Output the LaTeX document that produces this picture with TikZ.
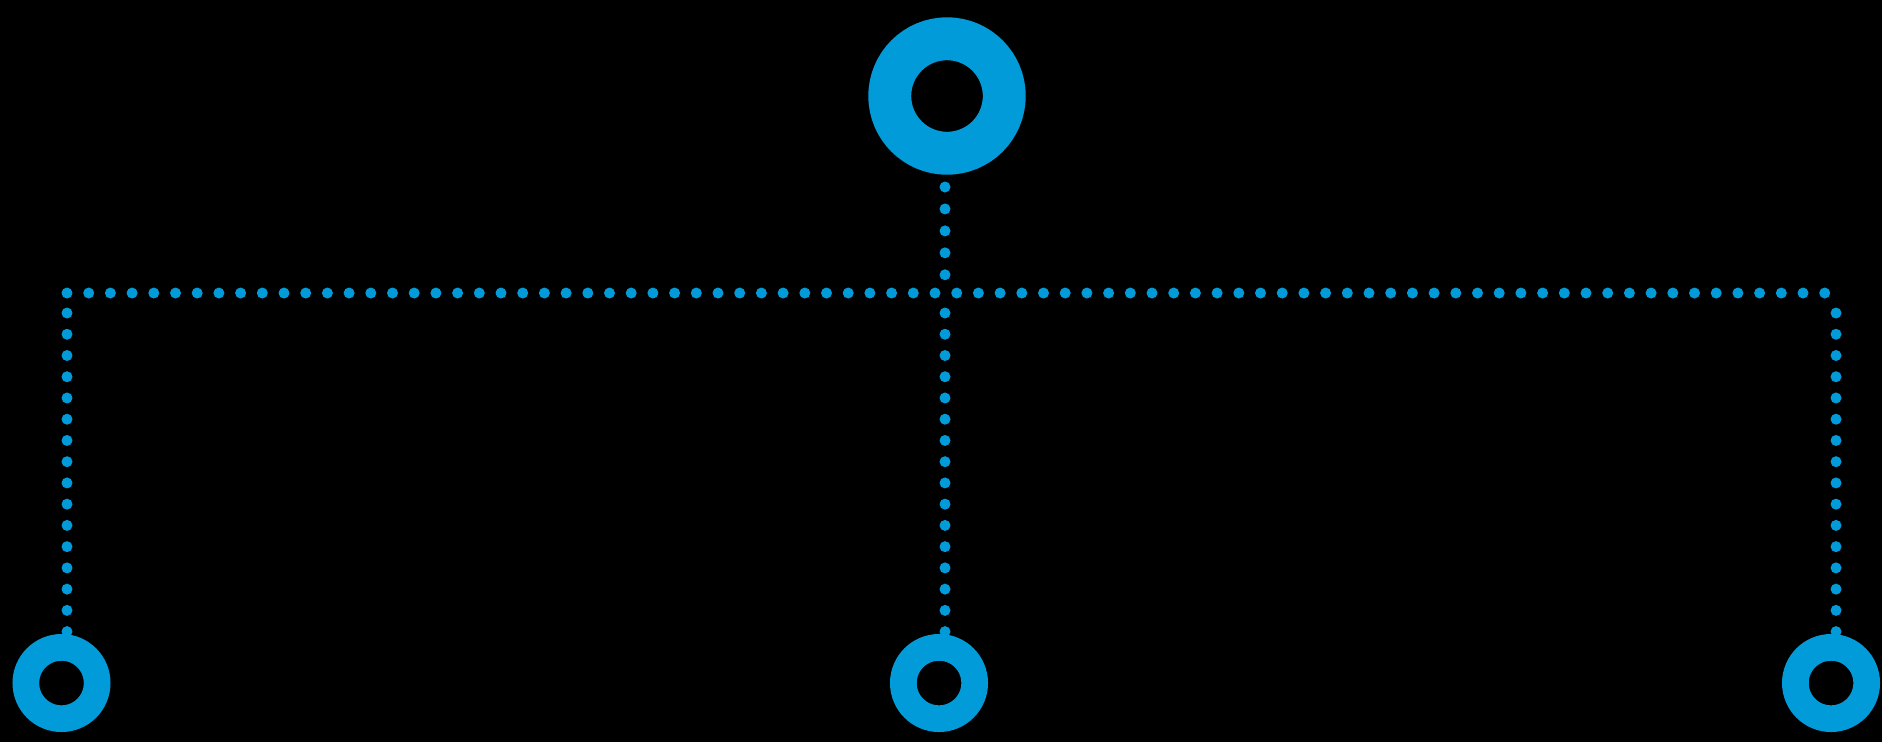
\documentclass[tikz,border=0pt]{standalone}
\usepackage{tikz}
\definecolor{ringblue}{RGB}{0,155,216}
\begin{document}
\begin{tikzpicture}[x=0.5pt,y=-0.5pt,
  bigring/.style={circle,draw=ringblue,line width=21.45pt,minimum size=57.25pt,inner sep=0pt,outer sep=0pt},
  smallring/.style={circle,draw=ringblue,line width=13.35pt,minimum size=35.65pt,inner sep=0pt,outer sep=0pt},
  dotline/.style={draw=ringblue,line width=5.5pt,line cap=round},
  hdots/.style={dotline,dash pattern=on 0pt off 10.85pt},
  vdots/.style={dotline,dash pattern=on 0pt off 10.62pt},
  tdots/.style={dotline,dash pattern=on 0pt off 10.97pt}]
\useasboundingbox (0,0) rectangle (1882,741);
\fill[black] (-10,-10) rectangle (1892,751);
\node[bigring] (top) at (947,96) {};
\node[smallring] (left) at (61.5,683) {};
\node[smallring] (mid) at (939,683) {};
\node[smallring] (right) at (1831,683) {};
\coordinate (ts) at (945,187);
\coordinate (te) at (945,275);
\coordinate (hl) at (67,293);
\coordinate (hr) at (1826,293);
\coordinate (ls) at (67,313);
\coordinate (le) at (67,632);
\coordinate (ms) at (945,313);
\coordinate (me) at (945,632);
\coordinate (rs) at (1836,313);
\coordinate (re) at (1836,632);
\draw[tdots] (ts) -- (te);
\draw[hdots] (hl) -- (hr);
\draw[vdots] (ls) -- (le);
\draw[vdots] (ms) -- (me);
\draw[vdots] (rs) -- (re);
\end{tikzpicture}
\end{document}
